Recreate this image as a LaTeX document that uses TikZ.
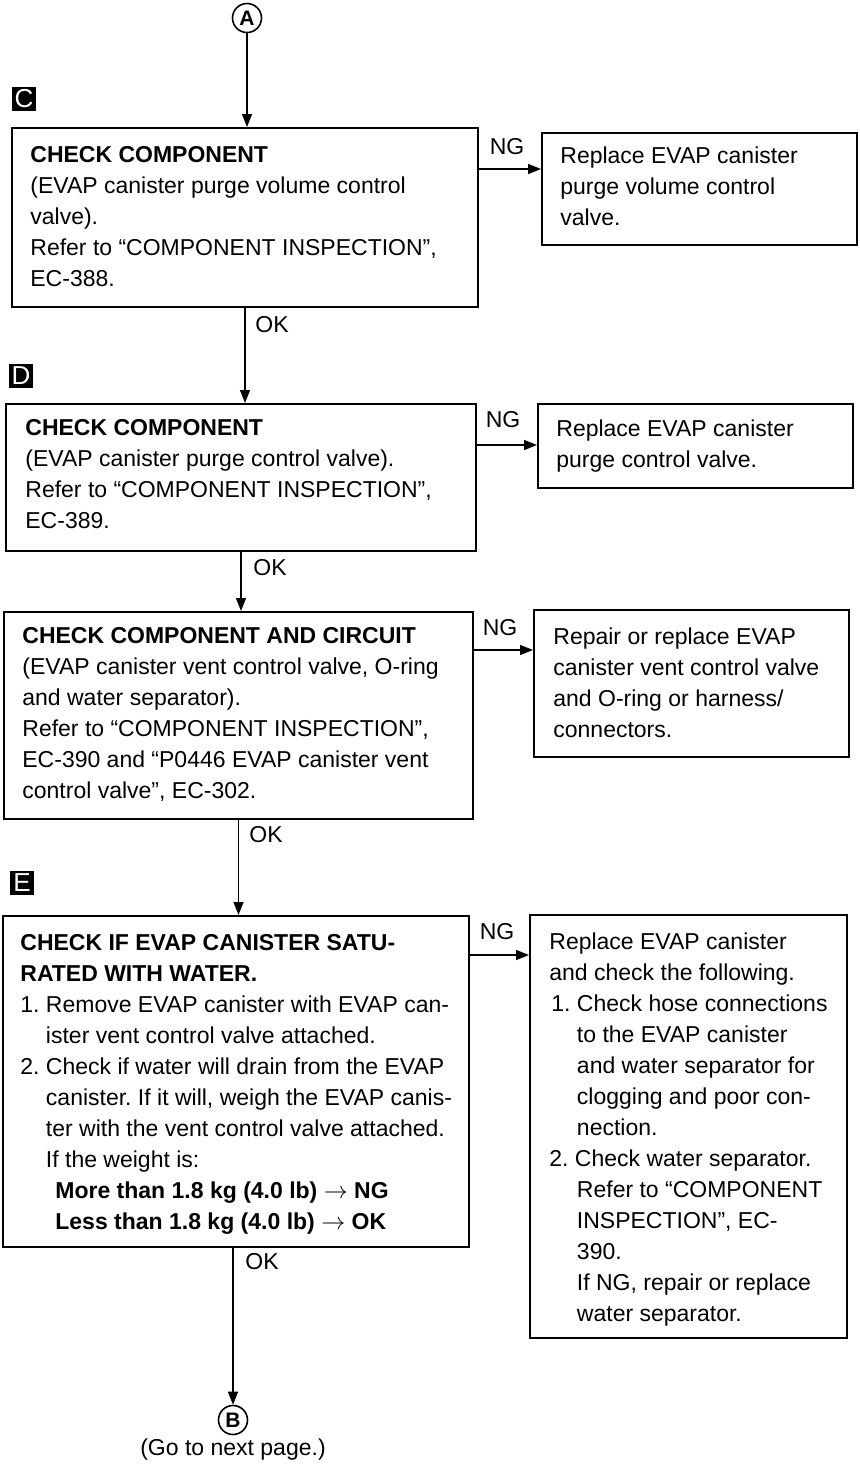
\documentclass[tikz,border=0pt]{standalone}
\usepackage{fontspec}
\setmainfont{Liberation Sans}
\usetikzlibrary{fit,arrows.meta}
\frenchspacing
\begin{document}
\begin{tikzpicture}[x=0.5pt,y=-0.5pt,
  box/.style={draw,line width=1pt,inner sep=0pt},
  txt/.style={font=\fontsize{11.5}{15.5}\selectfont\frenchspacing,align=left,inner sep=0pt,anchor=north west},
  lbl/.style={font=\fontsize{11.5}{13}\selectfont,inner sep=0pt},
  arr/.style={line width=0.7pt,-{Triangle[length=6.5pt,width=5pt]}},
  stepmark/.style={fill=black,text=white,minimum size=12pt,inner sep=0pt,font=\fontsize{13}{13}\selectfont},
  circ/.style={circle,draw,line width=0.8pt,minimum size=14.5pt,inner sep=0pt,font=\bfseries\fontsize{10.5}{10.5}\selectfont}]
\useasboundingbox (0,0) rectangle (860,1464);
\node[circ] (A) at (247,18) {A};
\node[stepmark] (mC) at (24,99) {C};
\node[stepmark] (mD) at (21,376) {D};
\node[stepmark] (mE) at (22,883) {E};
% boxes
\node[box,fit={(12,128) (478,307)}] (b1) {};
\node[box,fit={(542,133) (857,245)}] (n1) {};
\node[box,fit={(6,404) (476,551)}] (b2) {};
\node[box,fit={(538,404) (853,488)}] (n2) {};
\node[box,fit={(4,612) (473,819)}] (b3) {};
\node[box,fit={(534,610) (849,757)}] (n3) {};
\node[box,fit={(3,916) (469,1247)}] (b4) {};
\node[box,fit={(530,915) (847,1338)}] (n4) {};
\node[circ] (B) at (233,1420) {B};
\node[lbl] (go) at (233,1450) {(Go to next page.)};
% texts
\node[txt] (t1) at (30,146) {\textbf{CHECK COMPONENT}\\(EVAP canister purge volume control\\valve).\\Refer to “COMPONENT INSPECTION”,\\EC-388.};
\node[txt] (u1) at (560,146) {Replace EVAP canister\\purge volume control\\valve.};
\node[txt] (t2) at (25,419) {\textbf{CHECK COMPONENT}\\(EVAP canister purge control valve).\\Refer to “COMPONENT INSPECTION”,\\EC-389.};
\node[txt] (u2) at (556,419) {Replace EVAP canister\\purge control valve.};
\node[txt] (t3) at (22,627) {\textbf{CHECK COMPONENT AND CIRCUIT}\\(EVAP canister vent control valve, O-ring\\and water separator).\\Refer to “COMPONENT INSPECTION”,\\EC-390 and “P0446 EVAP canister vent\\control valve”, EC-302.};
\node[txt] (u3) at (553,627) {Repair or replace EVAP\\canister vent control valve\\and O-ring or harness/\\connectors.};
\node[txt] (t4) at (20,934) {\textbf{CHECK IF EVAP CANISTER SATU-}\\\textbf{RATED WITH WATER.}\\1. Remove EVAP canister with EVAP can-\\\phantom{1. }ister vent control valve attached.\\2. Check if water will drain from the EVAP\\\phantom{2. }canister. If it will, weigh the EVAP canis-\\\phantom{2. }ter with the vent control valve attached.\\\phantom{2. }If the weight is:\\\hspace*{17.5pt}\textbf{More than 1.8 kg (4.0 lb) $\rightarrow$ NG}\\\hspace*{17.5pt}\textbf{Less than 1.8 kg (4.0 lb) $\rightarrow$ OK}};
\node[txt] (u4) at (549,932) {Replace EVAP canister\\and check the following.\\\hspace*{1pt}1. Check hose connections\\\hspace*{1pt}\phantom{1. }to the EVAP canister\\\hspace*{1pt}\phantom{1. }and water separator for\\\hspace*{1pt}\phantom{1. }clogging and poor con-\\\hspace*{1pt}\phantom{1. }nection.\\2. Check water separator.\\\hspace*{1pt}\phantom{1. }Refer to “COMPONENT\\\hspace*{1pt}\phantom{1. }INSPECTION”, EC-\\\hspace*{1pt}\phantom{1. }390.\\\hspace*{1pt}\phantom{1. }If NG, repair or replace\\\hspace*{1pt}\phantom{1. }water separator.};
% vertical connectors
\draw[arr] (A) -- (A |- b1.north);
\draw[arr] (b1.south) -- (b1.south |- b2.north);
\draw[arr] (b2.south) -- (b2.south |- b3.north);
\draw[arr] (b3.south) -- (b3.south |- b4.north);
\draw[arr] (B |- b4.south) -- (B);
% NG connectors
\path (b1.north east) ++(0,42) coordinate (s1);
\path (b2.north east) ++(0,42) coordinate (s2);
\path (b3.north east) ++(0,39) coordinate (s3);
\path (b4.north east) ++(0,40) coordinate (s4);
\draw[arr] (s1) -- (s1 -| n1.west);
\draw[arr] (s2) -- (s2 -| n2.west);
\draw[arr] (s3) -- (s3 -| n3.west);
\draw[arr] (s4) -- (s4 -| n4.west);
% labels
\node[lbl] (ng1) at (507,147) {NG};
\node[lbl] (ng2) at (503,420) {NG};
\node[lbl] (ng3) at (500,628) {NG};
\node[lbl] (ng4) at (497,932) {NG};
\node[lbl] (ok1) at (272,325) {OK};
\node[lbl] (ok2) at (270,568) {OK};
\node[lbl] (ok3) at (266,835) {OK};
\node[lbl] (ok4) at (262,1262) {OK};
\end{tikzpicture}
\end{document}
